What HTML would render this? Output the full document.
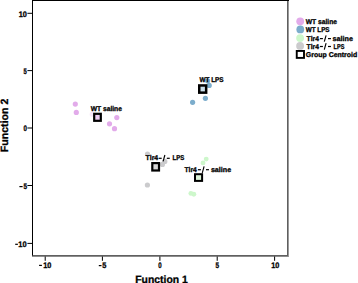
<!DOCTYPE html>
<html><head><meta charset="utf-8">
<style>
html,body{margin:0;padding:0;background:#fff;width:358px;height:283px;overflow:hidden}
svg{display:block}
text{font-family:"Liberation Sans",sans-serif;font-weight:bold;fill:#000;stroke:#000;stroke-width:0.3px;text-rendering:geometricPrecision}
</style></head><body>
<svg width="358" height="283" viewBox="0 0 358 283">
<rect width="358" height="283" fill="#fff"/>

<g fill="#000">
<rect x="32" y="0" width="1" height="256"/>
<rect x="287" y="0" width="1" height="257" fill="#5f5f5f"/>
<rect x="288" y="0" width="1" height="257" fill="#9a9a9a"/>
<rect x="32" y="0" width="257" height="1"/>
<rect x="32" y="255" width="256" height="1" fill="#606060"/>
<rect x="32" y="256" width="256" height="1" fill="#8c8c8c"/>
<rect x="32" y="255" width="1" height="1" fill="#333"/>
<rect x="27.4" y="12.8" width="4.6" height="1"/>
<rect x="27.4" y="70.1" width="4.6" height="1"/>
<rect x="27.4" y="127.5" width="4.6" height="1"/>
<rect x="27.4" y="185" width="4.6" height="1"/>
<rect x="27.4" y="242.9" width="4.6" height="1"/>
<rect x="44.7" y="256.5" width="1" height="4.3"/>
<rect x="101.9" y="256.5" width="1" height="4.3"/>
<rect x="159.4" y="256.5" width="1" height="4.3"/>
<rect x="216.7" y="256.5" width="1" height="4.3"/>
<rect x="274.1" y="256.5" width="1" height="4.3"/>
<rect x="19.4" y="186.0" width="3.2" height="1.2"/>
<rect x="15.2" y="243.7" width="2.7" height="1.2"/>
<rect x="39.1" y="264.8" width="2.8" height="1.2"/>
<rect x="98.8" y="265.0" width="2.7" height="1.2"/>
</g>
<circle cx="75.3" cy="104.1" r="2.6" fill="#e2abea"/>
<circle cx="76.3" cy="112.4" r="2.6" fill="#e2abea"/>
<circle cx="116.8" cy="117.6" r="2.6" fill="#e2abea"/>
<circle cx="109.5" cy="123.8" r="2.6" fill="#e2abea"/>
<circle cx="114.5" cy="128.7" r="2.6" fill="#e2abea"/>
<circle cx="92.3" cy="114.2" r="2.6" fill="#e2abea" opacity="0.3"/>
<circle cx="207.6" cy="80.8" r="2.6" fill="#7cadcc"/>
<circle cx="209.2" cy="85.4" r="2.6" fill="#7cadcc"/>
<circle cx="205.4" cy="98.3" r="2.6" fill="#7cadcc"/>
<circle cx="192.6" cy="102.3" r="2.6" fill="#7cadcc"/>
<circle cx="147.5" cy="154.0" r="2.6" fill="#cbcbcd"/>
<circle cx="164.8" cy="161.4" r="2.6" fill="#cbcbcd"/>
<circle cx="162.4" cy="164.4" r="2.6" fill="#cbcbcd"/>
<circle cx="147.4" cy="185.0" r="2.6" fill="#cbcbcd"/>
<circle cx="206.2" cy="159.1" r="2.45" fill="#cdf7cb"/>
<circle cx="203.0" cy="162.9" r="2.45" fill="#cdf7cb"/>
<circle cx="190.9" cy="193.4" r="2.45" fill="#cdf7cb"/>
<circle cx="193.8" cy="194.2" r="2.45" fill="#cdf7cb"/>
<g stroke="#000">
<rect x="94.2" y="113.8" width="6.6" height="7.0" stroke-width="2.2" fill="#ecccf4"/>
<rect x="199.25" y="85.45" width="6.9" height="7.2" stroke-width="2.5" fill="#c9deea"/>
<rect x="152.3" y="163.1" width="6.7" height="7.4" stroke-width="2.2" fill="#d6d6d6"/>
<rect x="195.0" y="174.2" width="7.1" height="6.7" stroke-width="2.0" fill="#dcf4d8"/>
</g>
<circle cx="300.2" cy="21.3" r="3.9" fill="#e2abea"/>
<circle cx="300.3" cy="29.4" r="3.9" fill="#7cadcc"/>
<circle cx="300.1" cy="38.1" r="3.9" fill="#cdf7cb"/>
<circle cx="300.1" cy="45.9" r="3.9" fill="#cbcbcd"/>
<rect x="296.75" y="50.95" width="7.25" height="6.95" fill="#fff" stroke="#000" stroke-width="1.9"/>
<text x="26.79" y="17.00" font-size="8.1" textLength="8.15" lengthAdjust="spacingAndGlyphs" text-anchor="end">10</text>
<text x="26.78" y="74.00" font-size="8.1" textLength="3.28" lengthAdjust="spacingAndGlyphs" text-anchor="end">5</text>
<text x="26.96" y="131.00" font-size="8.1" textLength="3.43" lengthAdjust="spacingAndGlyphs" text-anchor="end">0</text>
<text x="27.00" y="189.00" font-size="8.1" textLength="3.56" lengthAdjust="spacingAndGlyphs" text-anchor="end">5</text>
<text x="26.68" y="247.00" font-size="8.1" textLength="8.32" lengthAdjust="spacingAndGlyphs" text-anchor="end">10</text>
<text x="47.23" y="268.00" font-size="8.1" textLength="8.18" lengthAdjust="spacingAndGlyphs" text-anchor="middle">10</text>
<text x="104.36" y="268.00" font-size="8.1" textLength="4.12" lengthAdjust="spacingAndGlyphs" text-anchor="middle">5</text>
<text x="160.00" y="268.00" font-size="8.1" textLength="3.40" lengthAdjust="spacingAndGlyphs" text-anchor="middle">0</text>
<text x="217.33" y="268.00" font-size="8.1" textLength="3.57" lengthAdjust="spacingAndGlyphs" text-anchor="middle">5</text>
<text x="275.27" y="268.00" font-size="8.1" textLength="8.11" lengthAdjust="spacingAndGlyphs" text-anchor="middle">10</text>
<text x="161.55" y="283.00" font-size="10.6" textLength="52.56" lengthAdjust="spacingAndGlyphs" text-anchor="middle">Function 1</text>
<text x="0.00" y="0.00" font-size="10.6" text-anchor="middle" transform="translate(7.6,125.4) rotate(-90)">Function 2</text>
<text x="90.67" y="111.00" font-size="7" textLength="31.27" lengthAdjust="spacingAndGlyphs">WT saline</text>
<text x="199.43" y="82.00" font-size="7" textLength="24.18" lengthAdjust="spacingAndGlyphs">WT LPS</text>
<text x="305.71" y="24.00" font-size="7" textLength="31.31" lengthAdjust="spacingAndGlyphs">WT saline</text>
<text x="305.77" y="32.00" font-size="7" textLength="23.76" lengthAdjust="spacingAndGlyphs">WT LPS</text>
<text x="305.86" y="57.00" font-size="7" textLength="51.35" lengthAdjust="spacingAndGlyphs">Group Centroid</text>
<text x="145.55" y="160.00" font-size="7" textLength="12.59" lengthAdjust="spacingAndGlyphs">Tlr4</text>
<text x="172.46" y="160.00" font-size="7" textLength="11.75" lengthAdjust="spacingAndGlyphs">LPS</text>
<text x="184.45" y="172.00" font-size="7" textLength="12.30" lengthAdjust="spacingAndGlyphs">Tlr4</text>
<text x="210.92" y="172.00" font-size="7" textLength="20.20" lengthAdjust="spacingAndGlyphs">saline</text>
<text x="306.59" y="41.00" font-size="7" textLength="12.30" lengthAdjust="spacingAndGlyphs">Tlr4</text>
<text x="332.53" y="41.00" font-size="7" textLength="20.41" lengthAdjust="spacingAndGlyphs">saline</text>
<text x="306.59" y="49.00" font-size="7" textLength="12.30" lengthAdjust="spacingAndGlyphs">Tlr4</text>
<text x="333.62" y="49.00" font-size="7" textLength="10.74" lengthAdjust="spacingAndGlyphs">LPS</text>
<g fill="#000">
<rect x="158.70" y="157.70" width="3.00" height="1.2"/>
<rect x="166.80" y="157.70" width="2.95" height="1.2"/>
<line x1="163.10" y1="161.40" x2="164.90" y2="155.00" stroke="#000" stroke-width="1.15"/>
<rect x="197.90" y="169.10" width="3.00" height="1.2"/>
<rect x="206.00" y="169.10" width="2.95" height="1.2"/>
<line x1="202.30" y1="172.80" x2="204.10" y2="166.40" stroke="#000" stroke-width="1.15"/>
<rect x="319.90" y="38.00" width="3.00" height="1.2"/>
<rect x="328.00" y="38.00" width="2.95" height="1.2"/>
<line x1="324.30" y1="41.70" x2="326.10" y2="35.30" stroke="#000" stroke-width="1.15"/>
<rect x="319.90" y="45.90" width="3.00" height="1.2"/>
<rect x="328.00" y="45.90" width="2.95" height="1.2"/>
<line x1="324.30" y1="49.60" x2="326.10" y2="43.20" stroke="#000" stroke-width="1.15"/>
</g>
</svg>
</body></html>
